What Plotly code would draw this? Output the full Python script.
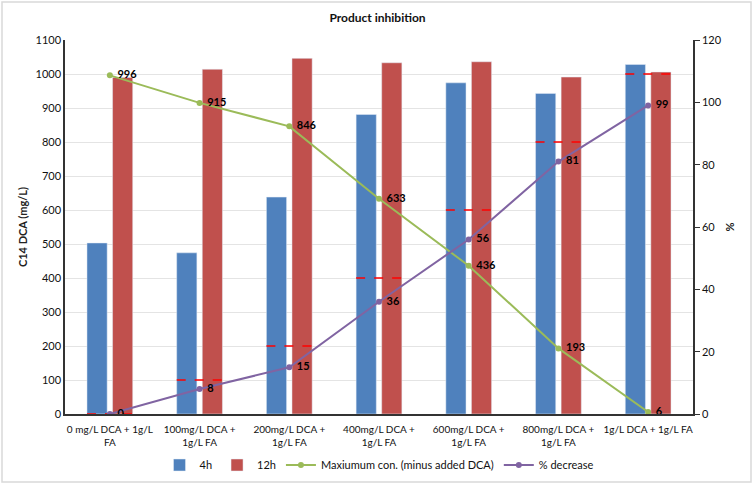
import plotly.graph_objects as go

categories = ["0 mg/L DCA + 1g/L<br>FA", "100mg/L DCA +<br>1g/L FA", "200mg/L DCA +<br>1g/L FA",
              "400mg/L DCA +<br>1g/L FA", "600mg/L DCA +<br>1g/L FA", "800mg/L DCA +<br>1g/L FA",
              "1g/L DCA + 1g/L FA"]
c14_4h = [503, 474, 638, 881, 974, 943, 1028]
c14_12h = [990, 1014, 1046, 1033, 1036, 991, 1006]
added_dca = [0, 100, 200, 400, 600, 800, 1000]
max_con = [996, 915, 846, 633, 436, 193, 6]
pct_decrease = [0, 8, 15, 36, 56, 81, 99]

W, H = 755, 484
ML, MR, MT, MB = 65, 62, 40, 70
pw, ph = W - ML - MR, H - MT - MB

xs = list(range(len(categories)))
BW = 0.225
HALF = 0.255

# dashed segments for added DCA
dx, dy = [], []
for i, v in zip(xs, added_dca):
    dx += [i - HALF, i + HALF, None]
    dy += [v, v, None]

BLUE, RED, GREEN, PURPLE = "#4F81BD", "#C0504D", "#9BBB59", "#8064A2"
FONT = "Lato"

fig = go.Figure()
fig.add_trace(go.Bar(x=xs, y=c14_4h, name="4h", marker_color=BLUE, width=BW, offset=-HALF))
fig.add_trace(go.Bar(x=xs, y=c14_12h, name="12h", marker_color=RED, width=BW, offset=HALF - BW))
fig.add_trace(go.Scatter(x=dx, y=dy, mode="lines", line=dict(color="#FF0000", dash="dash", width=1.5),
                         showlegend=False, hoverinfo="skip"))
fig.add_trace(go.Scatter(x=xs, y=max_con, name="Maxiumum con. (minus added DCA)", mode="lines+markers+text",
                         line=dict(color=GREEN, width=2), marker=dict(color=GREEN, size=6),
                         text=["&nbsp;<b>%d</b>" % v for v in max_con], textposition="middle right",
                         textfont=dict(color="black", size=11, family=FONT)))
fig.add_trace(go.Scatter(x=xs, y=pct_decrease, name="% decrease", mode="lines+markers+text", yaxis="y2",
                         line=dict(color=PURPLE, width=2), marker=dict(color=PURPLE, size=6),
                         text=["&nbsp;<b>%d</b>" % v for v in pct_decrease], textposition="middle right",
                         textfont=dict(color="black", size=11, family=FONT)))

fig.update_layout(
    width=W, height=H,
    margin=dict(l=ML, r=MR, t=MT, b=MB, autoexpand=False),
    paper_bgcolor="white", plot_bgcolor="white",
    font=dict(family=FONT, size=11, color="#222"),
    title=dict(text="<b>Product inhibition</b>", x=0.5, xanchor="center", y=1 - 18 / H, yanchor="middle",
               font=dict(size=12, color="#111"), automargin=False),
    xaxis=dict(range=[-0.5, len(categories) - 0.5], tickmode="array", tickvals=xs, ticktext=categories,
               showgrid=False, showline=True, linecolor="#333", linewidth=1.5, ticks="", tickangle=0,
               ticklabelstandoff=5,
               tickfont=dict(size=10, color="#111"), automargin=False),
    yaxis=dict(range=[0, 1100], dtick=100, showgrid=True, gridcolor="#E4E4E4", showline=True,
               linecolor="#333", linewidth=1.5, ticks="", zeroline=False, automargin=False,
               title=dict(text="<b>C14 DCA (mg/L)</b>", font=dict(size=11), standoff=6),
               tickfont=dict(size=11, color="#111")),
    yaxis2=dict(range=[0, 120], dtick=20, overlaying="y", side="right", showgrid=False, showline=True,
                linecolor="#333", linewidth=1.5, ticks="outside", ticklen=5, tickcolor="#333", zeroline=False,
                automargin=False,
                title=dict(text="<b>%</b>", font=dict(size=11), standoff=6),
                tickfont=dict(size=11, color="#111")),
    legend=dict(orientation="h", x=0.5, xanchor="center", y=-(465 - (H - MB)) / ph, yanchor="middle",
                font=dict(size=11, color="#111"), traceorder="normal"),
    showlegend=True,
)

fig.add_shape(type="rect", xref="paper", yref="paper",
              x0=(2 - ML) / pw, x1=(751 - ML) / pw,
              y0=-(482 - (H - MB)) / ph, y1=(H - MB - 2) / ph,
              line=dict(color="#D9D9D9", width=1.5), fillcolor="rgba(0,0,0,0)", layer="below")

fig.write_html("out.html", config={"displayModeBar": False},
               post_script="document.body.style.margin='0';")
